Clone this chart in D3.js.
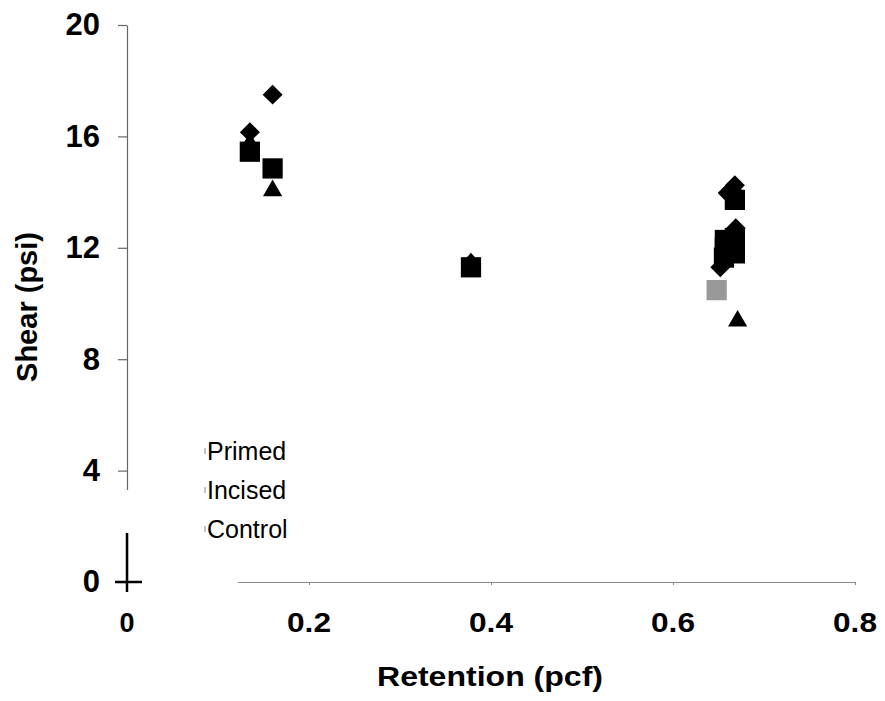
<!DOCTYPE html>
<html>
<head>
<meta charset="utf-8">
<script src="https://cdn.jsdelivr.net/npm/d3@7"></script>
<style>
  body { margin: 0; background: #fff; }
  text { font-family: Arial, "Liberation Sans", sans-serif; }
</style>
</head>
<body>
<div id="chart"></div>
<script>
// series values: [retention pcf, shear psi]
const PRIMED = [[0.16, 17.5], [0.135, 16.15], [0.378, 11.45], [0.66, 13.97], [0.668, 14.25], [0.669, 12.7], [0.652, 11.3]]
const INCISED = [[0.135, 15.45], [0.16, 14.85], [0.378, 11.3], [0.668, 13.72], [0.668, 12.35], [0.668, 11.8], [0.657, 12.28], [0.657, 12.0], [0.656, 11.65]]
const CONTROL = [[0.135, 15.75], [0.16, 14.05], [0.378, 11.42], [0.668, 14.1], [0.668, 12.45], [0.671, 9.37]]
const GREY_POINT = [[0.648, 10.48]]
const LEGEND = ["Primed", "Incised", "Control"]
const X_TICKS = [0, 0.2, 0.4, 0.6, 0.8]
const Y_TICKS = [0, 4, 8, 12, 16, 20]

const WIDTH = 885
const HEIGHT = 701

const x = d3.scaleLinear().domain([0, 0.8]).range([127, 855])
const y = d3.scaleLinear().domain([0, 20]).range([582, 25])

const svg = d3.select("#chart").append("svg")
  .attr("width", WIDTH)
  .attr("height", HEIGHT)

// y axis
const yAxis = svg.append("g")
  .attr("transform", `translate(${x(0)},0)`)
  .call(d3.axisLeft(y).tickValues(Y_TICKS).tickSize(9).tickSizeOuter(0).tickFormat(d3.format("d")))
yAxis.selectAll("path, line").attr("stroke", "#666").attr("stroke-width", 1.2)
yAxis.selectAll("text")
  .attr("x", -27)
  .attr("font-size", 31)
  .attr("font-weight", "bold")
  .attr("fill", "#000")

// x axis line (labels are placed further down by hand)
const xAxis = svg.append("g")
  .attr("transform", `translate(0,${y(0)})`)
  .call(d3.axisBottom(x).tickValues(X_TICKS).tickSize(3).tickSizeOuter(0).tickFormat(""))
xAxis.selectAll("path, line").attr("stroke", "#888").attr("stroke-width", 1)

svg.append("g").selectAll("text")
  .data(X_TICKS)
  .enter()
  .append("text")
  .attr("x", (d) => x(d))
  .attr("y", 632)
  .attr("text-anchor", "middle")
  .attr("font-size", 27)
  .attr("font-weight", "bold")
  .attr("textLength", (d) => d === 0 ? null : 44)
  .attr("lengthAdjust", "spacingAndGlyphs")
  .text((d) => d === 0 ? "0" : d3.format(".1f")(d))

// the legend box is blank and hides part of the axes
svg.append("rect").attr("x", x(0) - 6).attr("y", 490).attr("width", 12).attr("height", 43).attr("fill", "#fff")
svg.append("rect").attr("x", x(0) + 6).attr("y", y(0) - 4).attr("width", 238 - x(0) - 6).attr("height", 8).attr("fill", "#fff")

// origin cross
svg.append("line").attr("x1", x(0)).attr("x2", x(0)).attr("y1", 533).attr("y2", 592)
  .attr("stroke", "#000").attr("stroke-width", 2.5)
svg.append("line").attr("x1", x(0) - 12).attr("x2", x(0) + 15).attr("y1", y(0)).attr("y2", y(0))
  .attr("stroke", "#000").attr("stroke-width", 2.5)

// legend text
const legend = svg.append("g")
legend.selectAll("text")
  .data(LEGEND)
  .enter()
  .append("text")
  .attr("x", 207)
  .attr("y", (d, i) => 460 + i * 39)
  .attr("font-size", 25)
  .attr("fill", "#000")
  .text((d) => d)
legend.selectAll("line")
  .data(LEGEND)
  .enter()
  .append("line")
  .attr("x1", 205).attr("x2", 205)
  .attr("y1", (d, i) => 448 + i * 39)
  .attr("y2", (d, i) => 454 + i * 39)
  .attr("stroke", "#888")

// markers
const diamond = d3.symbol().type(d3.symbolSquare).size(200)
const square = d3.symbol().type(d3.symbolSquare).size(410)
const triangle = d3.symbol().type(d3.symbolTriangle).size(160)

svg.append("g").selectAll("path")
  .data(CONTROL)
  .enter()
  .append("path")
  .attr("d", triangle)
  .attr("transform", (d) => `translate(${x(d[0])},${y(d[1])})`)
  .attr("fill", "#000")

svg.append("g").selectAll("path")
  .data(GREY_POINT)
  .enter()
  .append("path")
  .attr("d", square)
  .attr("transform", (d) => `translate(${x(d[0])},${y(d[1])})`)
  .attr("fill", "#999")

svg.append("g").selectAll("path")
  .data(INCISED)
  .enter()
  .append("path")
  .attr("d", square)
  .attr("transform", (d) => `translate(${x(d[0])},${y(d[1])})`)
  .attr("fill", "#000")

svg.append("g").selectAll("path")
  .data(PRIMED)
  .enter()
  .append("path")
  .attr("d", diamond)
  .attr("transform", (d) => `translate(${x(d[0])},${y(d[1])}) rotate(45)`)
  .attr("fill", "#000")

// axis titles
svg.append("text")
  .attr("x", 490)
  .attr("y", 686)
  .attr("text-anchor", "middle")
  .attr("font-size", 27)
  .attr("font-weight", "bold")
  .attr("textLength", 226)
  .attr("lengthAdjust", "spacingAndGlyphs")
  .text("Retention (pcf)")

svg.append("text")
  .attr("transform", "translate(37,307) rotate(-90)")
  .attr("text-anchor", "middle")
  .attr("font-size", 29)
  .attr("font-weight", "bold")
  .text("Shear (psi)")
</script>
</body>
</html>
